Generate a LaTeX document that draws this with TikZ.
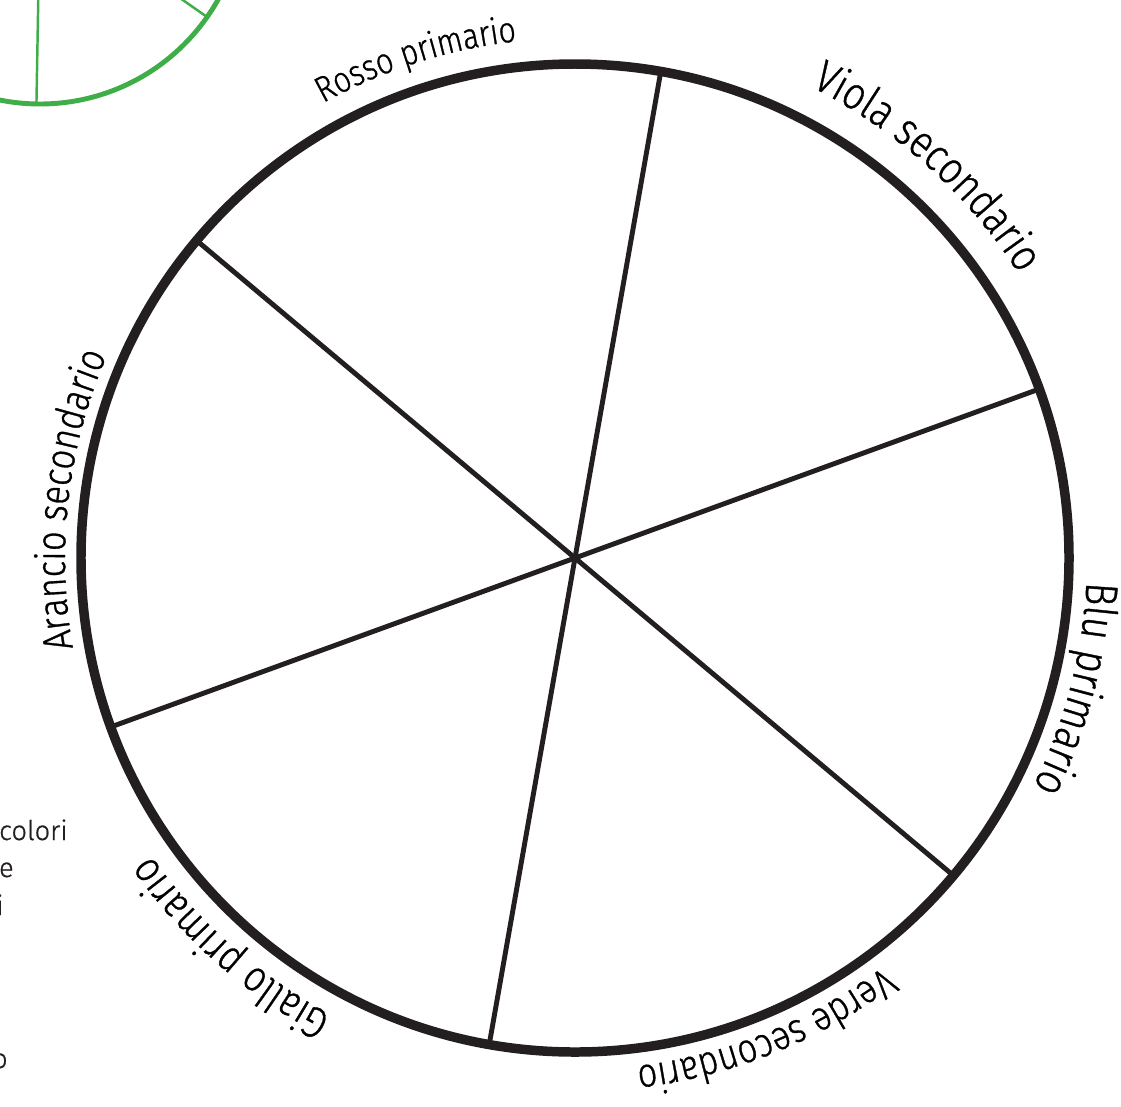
\documentclass[tikz,border=0pt]{standalone}
\usepackage{fontspec}
\setmainfont{Fira Sans Light}[FakeBold=0.8]
\newfontfamily\wheelfont{Fira Sans Light}[FakeStretch=0.84, FakeBold=0.8]
\usepackage{xcolor}
\usetikzlibrary{calc, decorations.text}

\definecolor{inkblack}{RGB}{35,31,32}
\definecolor{wheelgreen}{RGB}{63,174,73}

% label along the rim: centre angle, baseline radius, font size, text
\newcommand\rimlabel[4]{%
  \path[shift={(hub)}, decorate,
        decoration={text along path, text align=center,
                    text={|\wheelfont\fontsize{#3}{#3}\selectfont|#4}}]
    ({#1+40}:#2) arc[start angle={#1+40}, end angle={#1-40}, radius=#2];
}

\begin{document}
\begin{tikzpicture}[
      x=0.02cm, y=0.02cm,
      rim/.style={draw=inkblack, line width=5.4pt},
      spoke/.style={draw=inkblack, line width=2.8pt, line cap=round},
      greenrim/.style={draw=wheelgreen, line width=2.8pt},
      greenspoke/.style={draw=wheelgreen, line width=1.4pt},
      sidetext/.style={anchor=base east, inner sep=0pt, text=inkblack,
                       font=\fontsize{15.5pt}{19pt}\selectfont}
    ]
    \useasboundingbox (0,0) rectangle (1121,-1106);

    % green wheel, cut by the page corner
    \begin{scope}
      \clip (0,0) rectangle (1121,-1106);
      \coordinate (ghub) at (40,100);
      \draw[greenrim] (ghub) circle[radius=204];
      \foreach \a in {-91,-35,29,89,149,209}
        \draw[greenspoke] (ghub) -- ++(\a:204);
    \end{scope}

    % colour wheel
    \coordinate (hub) at (575,-558);
    \draw[rim] (hub) circle[radius=494];
    \foreach \a [count=\i] in {20,80,140,200,260,320}
      \coordinate (end\i) at ($(hub)+(\a:492)$);
    \foreach \i in {1,...,6}
      \draw[spoke] (hub) -- (end\i);

    \rimlabel{107.7}{520}{20.5pt}{Rosso primario}
    \rimlabel{48}{527}{25.8pt}{Viola secondario}
    \rimlabel{-14.6}{512}{26pt}{Blu primario}
    \rimlabel{-68}{512}{23.4pt}{Verde secondario}
    \rimlabel{228.5}{518}{24.8pt}{Giallo primario}
    \rimlabel{173.4}{510}{23.5pt}{Arancio secondario}

    % cut-off text at the left border
    \node[sidetext] (t1) at (68,-840) {colori};
    \node[sidetext] (t2) at (14,-877) {e};
    \node[sidetext] (t3) at (4,-915) {i};
    \node[sidetext] (t4) at (8,-1068) {o};
  \end{tikzpicture}
\end{document}
